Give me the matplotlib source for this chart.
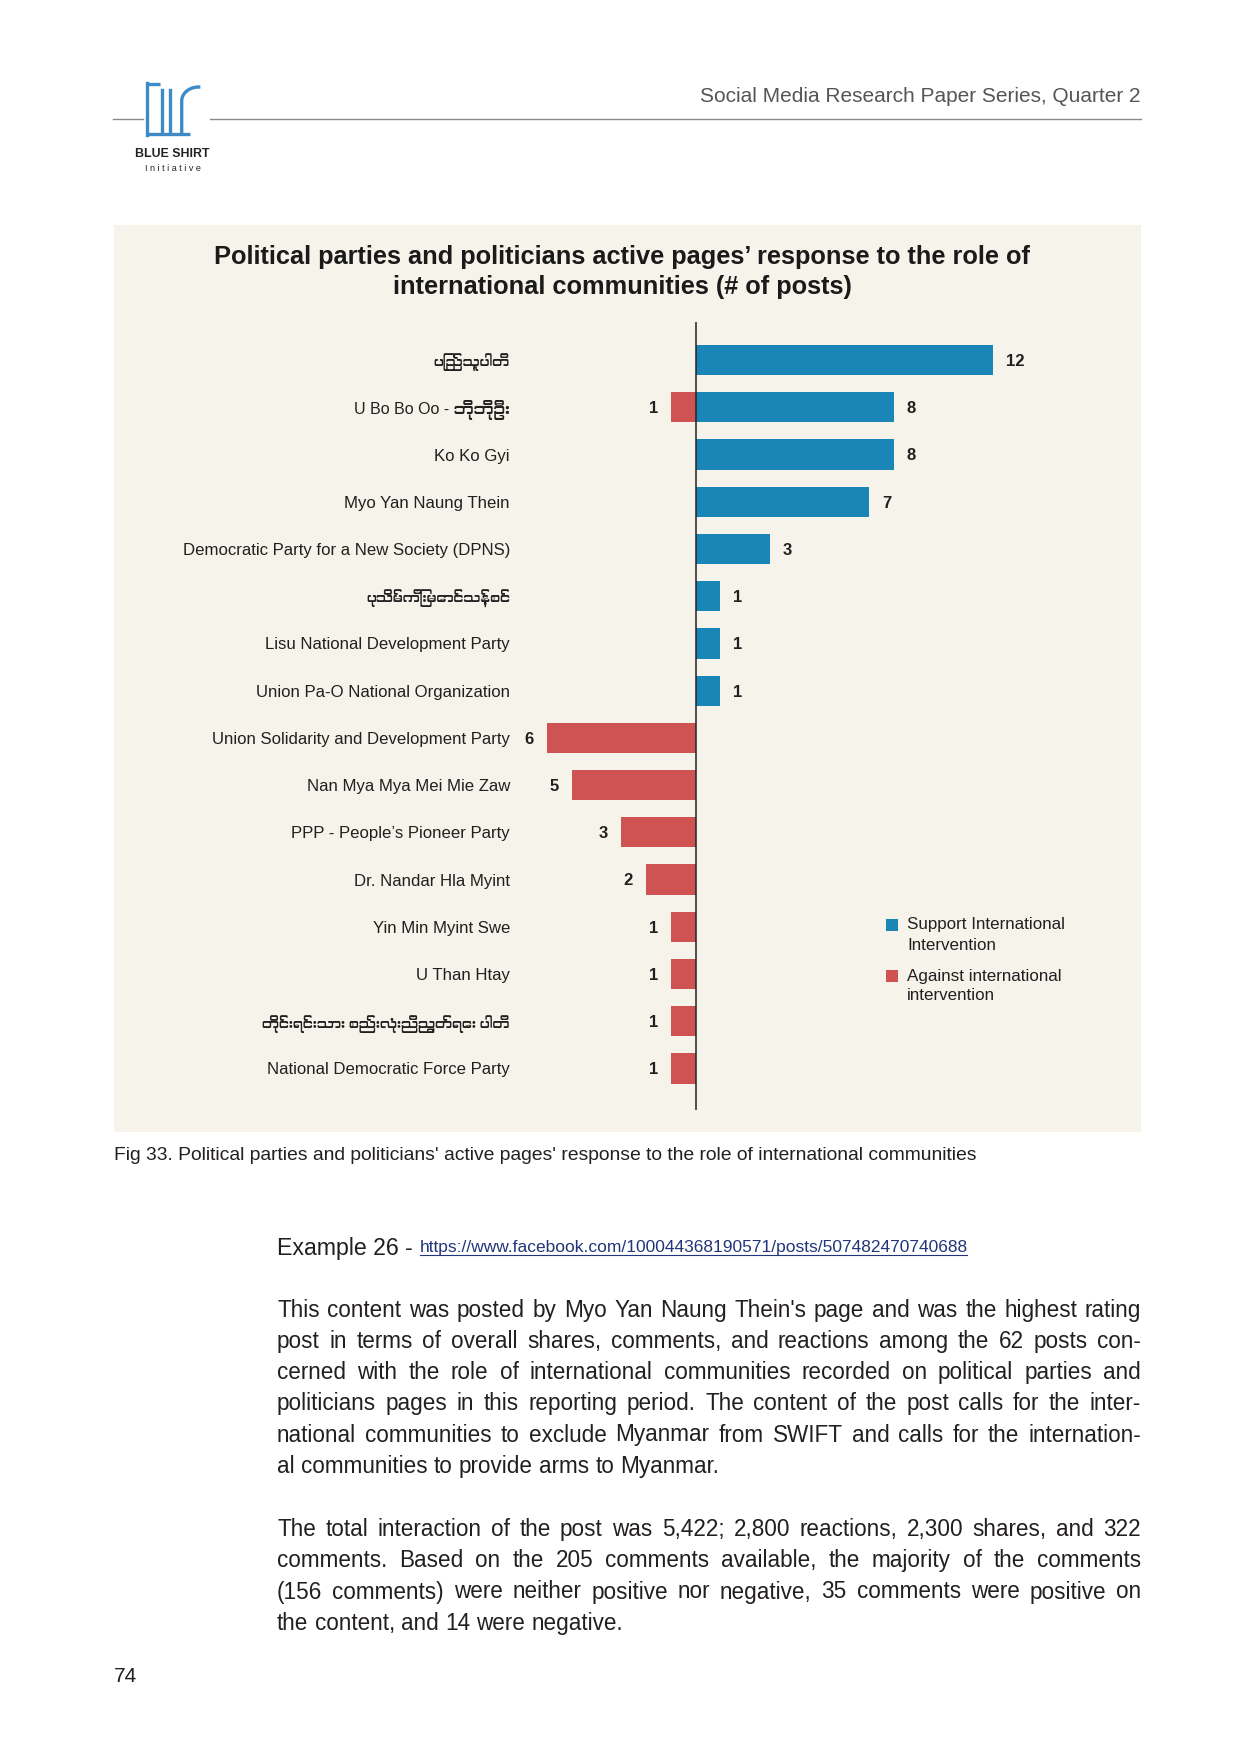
import matplotlib
matplotlib.use("Agg")
import numpy as np
import matplotlib.pyplot as plt
from matplotlib import font_manager
from matplotlib.ft2font import FT2Font
from matplotlib.patches import Rectangle
from matplotlib.lines import Line2D

# page size in pixels (figure is drawn at dpi 100)
W, H = 1257, 1754

categories = [
    "ပြည်သူ့ပါတီ",
    "U Bo Bo Oo - ဘိုဘိုဦး",
    "Ko Ko Gyi",
    "Myo Yan Naung Thein",
    "Democratic Party for a New Society (DPNS)",
    "ပုသိမ်ကြီးမောင်သန့်စင်",
    "Lisu National Development Party",
    "Union Pa-O National Organization",
    "Union Solidarity and Development Party",
    "Nan Mya Mya Mei Mie Zaw",
    "PPP - People’s Pioneer Party",
    "Dr. Nandar Hla Myint",
    "Yin Min Myint Swe",
    "U Than Htay",
    "တိုင်းရင်းသား စည်းလုံးညီညွတ်ရေး ပါတီ",
    "National Democratic Force Party",
]
support = [12, 8, 8, 7, 3, 1, 1, 1, 0, 0, 0, 0, 0, 0, 0, 0]
against = [0, 1, 0, 0, 0, 0, 0, 0, 6, 5, 3, 2, 1, 1, 1, 1]
series_names = ["Support International\nIntervention",
                "Against international\nintervention"]

title_lines = ["Political parties and politicians active pages’ response to the role of",
               "international communities (# of posts)"]
header = "Social Media Research Paper Series, Quarter 2"
caption = ("Fig 33. Political parties and politicians' active pages' response "
           "to the role of international communities")
example = "Example 26 -"
url = "https://www.facebook.com/100044368190571/posts/507482470740688"
para1 = [
    "This content was posted by Myo Yan Naung Thein's page and was the highest rating",
    "post in terms of overall shares, comments, and reactions among the 62 posts con-",
    "cerned with the role of international communities recorded on political parties and",
    "politicians pages in this reporting period. The content of the post calls for the inter-",
    "national communities to exclude Myanmar from SWIFT and calls for the internation-",
    "al communities to provide arms to Myanmar.",
]
para2 = [
    "The total interaction of the post was 5,422; 2,800 reactions, 2,300 shares, and 322",
    "comments. Based on the 205 comments available, the majority of the comments",
    "(156 comments) were neither positive nor negative, 35 comments were positive on",
    "the content, and 14 were negative.",
]
page_no = "74"

BLUE = "#1a86b8"
RED = "#d05353"
LOGO = "#3d8ac6"
BG = "#f6f3ea"
INK = "#231f20"


def find_myanmar_family():
    # look for any installed face that covers the Myanmar block
    need = [ord(c) for c in "ပြည်သူ့ါတီဘိုဦးမောင်န့စင"]
    entries = sorted(font_manager.fontManager.ttflist,
                     key=lambda f: ("myanmar" not in f.name.lower()
                                    and "padauk" not in f.name.lower()))
    seen = set()
    for f in entries:
        if f.fname in seen:
            continue
        seen.add(f.fname)
        try:
            cmap = FT2Font(f.fname).get_charmap()
        except Exception:
            continue
        if all(c in cmap for c in need):
            return f.name
    return None


FAM = ["Liberation Sans"]
mm = find_myanmar_family()
if mm:
    FAM.append(mm)
FAM.append("DejaVu Sans")

plt.rcParams["font.family"] = FAM

fig = plt.figure(figsize=(W / 100, H / 100), dpi=100)
fig.patch.set_facecolor("white")
renderer = fig.canvas.get_renderer()


def fx(x):
    return x / W


def fy(y):
    return 1 - y / H


def text_w(s, size, **kw):
    t = fig.text(0, 0, s, fontsize=size, **kw)
    w = t.get_window_extent(renderer).width
    t.remove()
    return w


def fit(s, width, **kw):
    return 10 * width / text_w(s, 10, **kw)


def fline(x0, y0, x1, y1, **kw):
    fig.add_artist(Line2D([fx(x0), fx(x1)], [fy(y0), fy(y1)],
                          transform=fig.transFigure, **kw))


# ---- header ----
fs = fit(header, 442)
fig.text(fx(1141), fy(97), header, fontsize=fs, color="#555555",
         ha="right", va="center")
fline(113, 119.3, 143, 119.3, color="#8a8a8a", lw=1.0)
fline(210, 119.3, 1141, 119.3, color="#8a8a8a", lw=1.0)

# logo
lw = 2.4
fline(146.5, 84, 160, 84, color=LOGO, lw=lw, solid_capstyle="butt")
fline(147.3, 83.2, 147.3, 135, color=LOGO, lw=lw)
fline(146.5, 134.3, 190, 134.3, color=LOGO, lw=lw, solid_capstyle="butt")
fline(161.7, 90, 161.7, 131.7, color=LOGO, lw=lw)
fline(170, 90, 170, 131.7, color=LOGO, lw=lw)
th = np.linspace(np.pi, np.pi / 2, 30)
cx, cy = 181.7 + 17, 101
xs = [181.7] + list(cx + 17 * np.cos(th))
ys = [131.7] + list(cy - 14 * np.sin(th))
fig.add_artist(Line2D([fx(v) for v in xs], [fy(v) for v in ys],
                      transform=fig.transFigure, color=LOGO, lw=lw))
fig.text(fx(172.5), fy(154), "BLUE SHIRT",
         fontsize=fit("BLUE SHIRT", 74, fontweight="bold"),
         fontweight="bold", color="#222222", ha="center", va="center")
fig.text(fx(172.5), fy(168.5), "I n i t i a t i v e", fontsize=6.5,
         color="#222222", ha="center", va="center")

# ---- chart panel ----
fig.add_artist(Rectangle((fx(114), fy(1132)), (1141 - 114) / W, (1132 - 225) / H,
                         transform=fig.transFigure, facecolor=BG, edgecolor="none",
                         zorder=0))

tfs = fit(title_lines[0], 816, fontweight="bold")
fig.text(fx(622), fy(257), title_lines[0], fontsize=tfs, fontweight="bold",
         color="#1a1a1a", ha="center", va="center")
fig.text(fx(622), fy(287), title_lines[1], fontsize=tfs, fontweight="bold",
         color="#1a1a1a", ha="center", va="center")

x_left, x_right = 521.9, 1017.9
y_top, y_bot = 322.3, 1109.5
ax = fig.add_axes([fx(x_left), fy(y_bot), (x_right - x_left) / W, (y_bot - y_top) / H])
ax.patch.set_alpha(0)
ypos = list(range(len(categories)))
ax.barh(ypos, support, height=0.64, color=BLUE, zorder=2)
ax.barh(ypos, [-v for v in against], height=0.64, color=RED, zorder=2)
ax.set_xlim(-7, 13)
ax.set_ylim(15.87, -0.8)
ax.axvline(0, color="#222222", lw=1.1, zorder=3)
for s in ax.spines.values():
    s.set_visible(False)
ax.set_xticks([])
cfs = fit(categories[4], 329)
ax.set_yticks(ypos)
ax.set_yticklabels(categories, fontsize=cfs, color=INK)
ax.tick_params(axis="y", length=0, pad=8.6)
# Myanmar-script labels are set a little smaller, as in the source page
for lab in ax.get_yticklabels():
    txt = lab.get_text()
    if txt and "\u1000" <= txt[0] <= "\u109f":
        lab.set_fontsize(cfs * 0.82)
    elif any("\u1000" <= c <= "\u109f" for c in txt):
        lab.set_fontsize(cfs * 0.95)

for i, (s, a) in enumerate(zip(support, against)):
    if s:
        ax.annotate(str(s), (s, i), xytext=(9.2, -1), textcoords="offset points",
                    ha="left", va="center", fontsize=12, fontweight="bold", color=INK)
    if a:
        ax.annotate(str(a), (-a, i), xytext=(-9.2, -1), textcoords="offset points",
                    ha="right", va="center", fontsize=12, fontweight="bold", color=INK)

# legend
lfs = fit(series_names[0].split("\n")[0], 158)
for k, (col, name) in enumerate(zip([BLUE, RED], series_names)):
    y0 = 925 + k * 51
    fig.add_artist(Rectangle((fx(886), fy(y0 + 6)), 12 / W, 12 / H,
                             transform=fig.transFigure, facecolor=col, edgecolor="none"))
    for j, part in enumerate(name.split("\n")):
        fig.text(fx(907), fy(y0 + j * 20), part, fontsize=lfs, color=INK,
                 ha="left", va="center")

# ---- caption and body ----
fig.text(fx(114), fy(1156), caption, fontsize=fit(caption, 864), color=INK,
         ha="left", va="center")

efs = fit(example, 137)
fig.text(fx(277), fy(1248), example, fontsize=efs, color=INK, ha="left", va="center")
ufs = fit(url, 547)
fig.text(fx(420), fy(1252), url, fontsize=ufs, color="#22357a", ha="left",
         va="baseline")
fline(420, 1255, 967, 1255, color="#22357a", lw=0.8)

bfs = fit(para1[-1], 463)
widest = max(text_w(l, bfs) for l in para1 + para2)
bfs = min(bfs, bfs * 0.975 * 864 / widest)
space = text_w("a a", bfs) - text_w("aa", bfs)


def justify(line, x0, x1, yb, last=False):
    words = line.split(" ")
    widths = [text_w(w, bfs) for w in words]
    gap = space if last else (x1 - x0 - sum(widths)) / (len(words) - 1)
    x = x0
    for w, wd in zip(words, widths):
        fig.text(fx(x), fy(yb), w, fontsize=bfs, color=INK, ha="left", va="baseline")
        x += wd + gap


for para, start in [(para1, 1310.6), (para2, 1529.8)]:
    for k, line in enumerate(para):
        justify(line, 277, 1141, start + k * 31.1 + 6.5, last=(k == len(para) - 1))

fig.text(fx(114), fy(1677), page_no, fontsize=15, color=INK, ha="left", va="center")

fig.savefig("out.png", dpi=100, facecolor="white")
